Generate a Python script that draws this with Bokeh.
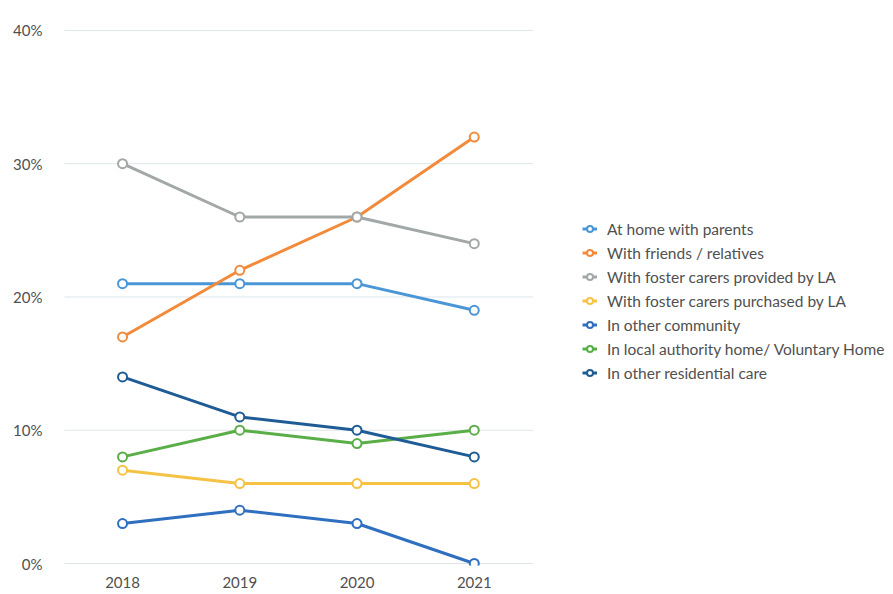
from bokeh.plotting import figure
from bokeh.models import (Legend, LegendItem, FixedTicker, PrintfTickFormatter,
                          Range1d)
from bokeh.embed import file_html
from bokeh.resources import INLINE

years = ["2018", "2019", "2020", "2021"]
at_home = [21, 21, 21, 19]
friends = [17, 22, 26, 32]
foster_la = [30, 26, 26, 24]
foster_purchased = [7, 6, 6, 6]
other_community = [3, 4, 3, 0]
la_home = [8, 10, 9, 10]
other_residential = [14, 11, 10, 8]

names = ["At home with parents", "With friends / relatives",
         "With foster carers provided by LA", "With foster carers purchased by LA",
         "In other community", "In local authority home/ Voluntary Home",
         "In other residential care"]
series = [at_home, friends, foster_la, foster_purchased, other_community,
          la_home, other_residential]
colors = ["#4a96d6", "#f28a3c", "#a2a7a7", "#f5c244", "#2f6fc0", "#5aae47", "#1f5c95"]
y_ticks = [0, 10, 20, 30, 40]

xs = list(range(len(years)))

W, H = 890, 590
p = figure(width=W, height=H, x_range=Range1d(-0.495, 6.55),
           y_range=Range1d(-0.15, 40.22), output_backend="svg",
           toolbar_location=None, min_border_left=64, min_border_right=0,
           min_border_top=27, min_border_bottom=H - 566, background_fill_color="white",
           border_fill_color="white")
p.outline_line_color = None
p.xgrid.grid_line_color = None
p.ygrid.grid_line_color = None

# horizontal gridlines limited to the category band
p.segment(x0=[-0.5] * len(y_ticks), x1=[len(years) - 0.5] * len(y_ticks),
          y0=y_ticks, y1=y_ticks, line_color="#dde5ea", line_width=1)

p.yaxis.ticker = FixedTicker(ticks=y_ticks)
p.yaxis.formatter = PrintfTickFormatter(format="%d%%")
p.xaxis.ticker = FixedTicker(ticks=xs)
p.xaxis.major_label_overrides = {i: y for i, y in zip(xs, years)}
for ax in (p.xaxis, p.yaxis):
    ax.axis_line_color = None
    ax.major_tick_line_color = None
    ax.minor_tick_line_color = None
    ax.major_tick_out = 0
    ax.major_tick_in = 0
    ax.major_label_text_font = "Lato"
    ax.major_label_text_font_size = "15px"
    ax.major_label_text_color = "#505050"
p.yaxis.major_label_standoff = 22
p.xaxis.major_label_standoff = 11

items = []
for name, vals, col in zip(names, series, colors):
    rl = p.line(xs, vals, line_color=col, line_width=3)
    rs = p.scatter(xs, vals, size=9, marker="circle", fill_color="white",
                   line_color=col, line_width=2)
    items.append(LegendItem(label=name, renderers=[rl, rs]))

legend = Legend(items=items, location=(518, 183), border_line_alpha=0,
                background_fill_alpha=0, padding=0, margin=0, spacing=5,
                glyph_height=19, glyph_width=15, label_height=19, label_standoff=10,
                label_text_font="Lato", label_text_font_size="15.5px",
                label_text_color="#505050")
p.add_layout(legend, "center")

open("out.html", "w").write(file_html(p, INLINE))
